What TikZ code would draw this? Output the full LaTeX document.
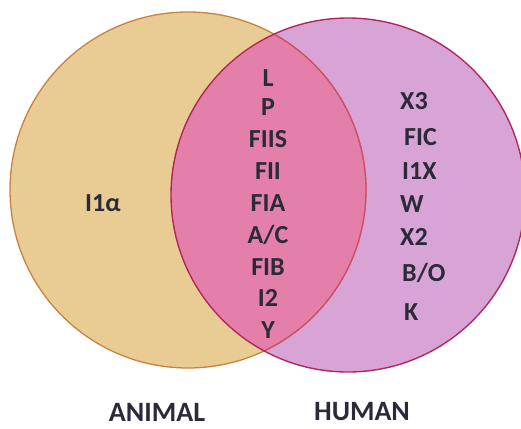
\documentclass[tikz,border=0pt]{standalone}
\usepackage{fontspec}
\setmainfont{Carlito}
\definecolor{animalfill}{HTML}{E9CC93}
\definecolor{humanfill}{HTML}{D8A4D5}
\definecolor{bothfill}{HTML}{E37FA8}
\definecolor{animalline}{HTML}{C98240}
\definecolor{humanline}{HTML}{B4275E}
\definecolor{innerline}{HTML}{D04C74}
\definecolor{ink}{HTML}{2B2A3A}
\tikzset{
  item/.style={font=\bfseries\fontsize{26}{26}\selectfont, text=ink, inner sep=0pt},
  rightitem/.style={item, anchor=west},
  setlabel/.style={font=\bfseries\fontsize{28}{28}\selectfont, text=ink, inner sep=0pt},
}
\begin{document}
\begin{tikzpicture}[x=1pt,y=-1pt]
  \useasboundingbox (0,0) rectangle (521,428);
  \coordinate (ca) at (188,190);
  \coordinate (ch) at (348,195);
  \def\ra{178}
  \def\rh{177}
  % fills
  \fill[animalfill] (ca) circle[radius=\ra];
  \fill[humanfill] (ch) circle[radius=\rh];
  \begin{scope}
    \clip (ca) circle[radius=\ra];
    \fill[bothfill] (ch) circle[radius=\rh];
  \end{scope}
  % outlines
  \draw[animalline, line width=1.3pt] (ca) circle[radius=\ra];
  \begin{scope}
    \clip (ch) circle[radius=\rh];
    \draw[innerline, line width=1.3pt] (ca) circle[radius=\ra];
  \end{scope}
  \draw[humanline, line width=1.4pt] (ch) circle[radius=\rh];

  % animal only
  \node[item, anchor=west] (ia) at (85,203) {I1α};

  % shared
  \node[item] (s1) at (268,78) {L};
  \node[item] (s2) at (268,107) {P};
  \node[item] (s3) at (268,139) {FIIS};
  \node[item] (s4) at (268,171) {FII};
  \node[item] (s5) at (268,203) {FIA};
  \node[item] (s6) at (268,235) {A/C};
  \node[item] (s7) at (268,267) {FIB};
  \node[item] (s8) at (268,298) {I2};
  \node[item] (s9) at (268,330) {Y};

  % human only
  \node[rightitem] (h1) at (400,101) {X3};
  \node[rightitem] (h2) at (404,137) {FIC};
  \node[rightitem] (h3) at (402,171) {I1X};
  \node[rightitem] (h4) at (400,204) {W};
  \node[rightitem] (h5) at (400,237) {X2};
  \node[rightitem] (h6) at (402,273) {B/O};
  \node[rightitem] (h7) at (404,312) {K};

  % set names
  \node[setlabel] (la) at (157,412) {ANIMAL};
  \node[setlabel] (lh) at (362,412) {HUMAN};
\end{tikzpicture}
\end{document}
